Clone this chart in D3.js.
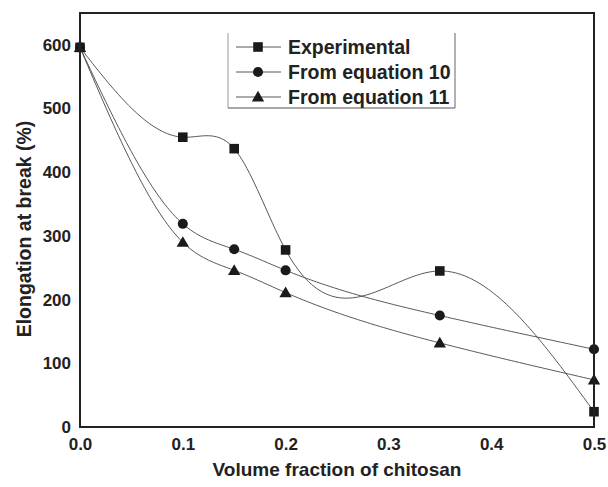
<!DOCTYPE html>
<html>
<head>
<meta charset="utf-8">
<script src="https://cdn.jsdelivr.net/npm/d3@7"></script>
<style>
  html, body { margin: 0; padding: 0; background: #fff; }
  svg { display: block; font-family: "Liberation Sans", Arial, sans-serif; }
</style>
</head>
<body>
<svg id="chart" width="608" height="487"></svg>
<script>
// Volume fraction of chitosan (x) and elongation at break (%) for each series
const fractions = [0.0, 0.1, 0.15, 0.2, 0.35, 0.5];
const experimental = [596, 455, 437, 278, 245, 24];
const equation10 = [596, 319, 279, 246, 175, 122];
const equation11 = [596, 290, 246, 211, 132, 74];

const seriesNames = ["Experimental", "From equation 10", "From equation 11"];
const seriesSymbols = ["square", "circle", "triangle"];

const xTicks = [0.0, 0.1, 0.2, 0.3, 0.4, 0.5];
const yTicks = [0, 100, 200, 300, 400, 500, 600];

const series = [experimental, equation10, equation11].map((vals, i) => ({
  name: seriesNames[i],
  symbol: seriesSymbols[i],
  points: fractions.map((f, j) => ({ x: f, y: vals[j] }))
}));

// Natural cubic spline through (x, y) points, as a function of x
function naturalSpline(pts) {
  const n = pts.length;
  const xs = pts.map(p => p.x), ys = pts.map(p => p.y);
  const h = [], alpha = [0];
  for (let i = 0; i < n - 1; i++) h.push(xs[i + 1] - xs[i]);
  for (let i = 1; i < n - 1; i++)
    alpha.push(3 / h[i] * (ys[i + 1] - ys[i]) - 3 / h[i - 1] * (ys[i] - ys[i - 1]));
  const l = [1], mu = [0], z = [0];
  for (let i = 1; i < n - 1; i++) {
    l[i] = 2 * (xs[i + 1] - xs[i - 1]) - h[i - 1] * mu[i - 1];
    mu[i] = h[i] / l[i];
    z[i] = (alpha[i] - h[i - 1] * z[i - 1]) / l[i];
  }
  const c = new Array(n).fill(0), b = [], d = [];
  for (let j = n - 2; j >= 0; j--) {
    c[j] = z[j] - mu[j] * c[j + 1];
    b[j] = (ys[j + 1] - ys[j]) / h[j] - h[j] * (c[j + 1] + 2 * c[j]) / 3;
    d[j] = (c[j + 1] - c[j]) / (3 * h[j]);
  }
  return function (t) {
    let i = n - 2;
    for (let k = 0; k < n - 1; k++) if (t <= xs[k + 1]) { i = k; break; }
    const dx = t - xs[i];
    return ys[i] + b[i] * dx + c[i] * dx * dx + d[i] * dx * dx * dx;
  };
}

const svg = d3.select("#chart");
const margin = { left: 80, right: 14, top: 13, bottom: 60 };
const W = 608, H = 487;
const x = d3.scaleLinear().domain([0, 0.5]).range([margin.left, W - margin.right]);
const y = d3.scaleLinear().domain([0, 650]).range([H - margin.bottom, margin.top]);

const symbolType = {
  square: d3.symbolSquare,
  circle: d3.symbolCircle,
  triangle: d3.symbolTriangle
};
const symbolSize = { square: 92, circle: 80, triangle: 66 };
const fontStack = "Liberation Sans, Arial, sans-serif";

// Axes: labels only, no tick marks
const xAxis = d3.axisBottom(x).tickValues(xTicks).tickFormat(d3.format(".1f")).tickSize(0).tickPadding(11);
const yAxis = d3.axisLeft(y).tickValues(yTicks).tickFormat(d3.format("d")).tickSize(0).tickPadding(9);

svg.append("g").attr("transform", `translate(0,${y(0)})`).call(xAxis)
  .call(g => g.select(".domain").remove())
  .selectAll("text").attr("font-size", 17).attr("font-weight", "bold").attr("fill", "#222")
  .attr("font-family", fontStack);

svg.append("g").attr("transform", `translate(${x(0)},0)`).call(yAxis)
  .call(g => g.select(".domain").remove())
  .selectAll("text").attr("font-size", 17).attr("font-weight", "bold").attr("fill", "#222")
  .attr("font-family", fontStack);

// Smooth curves: spline sampled along x, then drawn through the scales
const line = d3.line().x(d => x(d.x)).y(d => y(d.y));

const groups = svg.append("g").selectAll("g.series").data(series).join("g").attr("class", "series");
groups.append("path")
  .attr("d", s => {
    const f = naturalSpline(s.points);
    const samples = d3.range(0, 201).map(k => {
      const t = 0.5 * k / 200;
      return { x: t, y: f(t) };
    });
    return line(samples);
  })
  .attr("fill", "none")
  .attr("stroke", "#444")
  .attr("stroke-width", 0.9);

groups.each(function (s) {
  d3.select(this).selectAll("path.mark").data(s.points).join("path")
    .attr("class", "mark")
    .attr("transform", d => `translate(${x(d.x)},${y(d.y) + (s.symbol === "triangle" ? 1 : 0)})`)
    .attr("d", d3.symbol(symbolType[s.symbol], symbolSize[s.symbol]))
    .attr("fill", "#1a1a1a");
});

// Frame
svg.append("rect")
  .attr("x", x(0)).attr("y", y(650))
  .attr("width", x(0.5) - x(0)).attr("height", y(0) - y(650))
  .attr("fill", "none").attr("stroke", "#222").attr("stroke-width", 2);

// Legend
const lg = svg.append("g");
const lx0 = 228, lx1 = 455, ly0 = 33, ly1 = 108;
lg.append("line").attr("x1", lx0).attr("x2", lx0).attr("y1", ly0).attr("y2", ly1).attr("stroke", "#999").attr("stroke-width", 1);
lg.append("line").attr("x1", lx1).attr("x2", lx1).attr("y1", ly0).attr("y2", ly1).attr("stroke", "#666").attr("stroke-width", 1);
lg.append("line").attr("x1", lx0).attr("x2", lx1).attr("y1", ly1).attr("y2", ly1).attr("stroke", "#555").attr("stroke-width", 1.2);

series.forEach((s, i) => {
  const cy = 47 + i * 25;
  lg.append("line").attr("x1", 236).attr("x2", 281).attr("y1", cy).attr("y2", cy)
    .attr("stroke", "#444").attr("stroke-width", 0.9);
  lg.append("path")
    .attr("transform", `translate(258,${cy + (s.symbol === "triangle" ? 1 : 0)})`)
    .attr("d", d3.symbol(symbolType[s.symbol], symbolSize[s.symbol])())
    .attr("fill", "#1a1a1a");
  lg.append("text").attr("x", 288).attr("y", cy).attr("dy", "0.36em")
    .attr("font-size", 19.5).attr("font-weight", "bold").attr("fill", "#222")
    .text(s.name);
});

// Axis titles
svg.append("text")
  .attr("x", (x(0) + x(0.5)) / 2).attr("y", 476)
  .attr("text-anchor", "middle")
  .attr("font-size", 19).attr("font-weight", "bold").attr("fill", "#222")
  .text("Volume fraction of chitosan");

svg.append("text")
  .attr("transform", `translate(31,229) rotate(-90)`)
  .attr("text-anchor", "middle")
  .attr("font-size", 19.5).attr("font-weight", "bold").attr("fill", "#222")
  .text("Elongation at break (%)");
</script>
</body>
</html>
